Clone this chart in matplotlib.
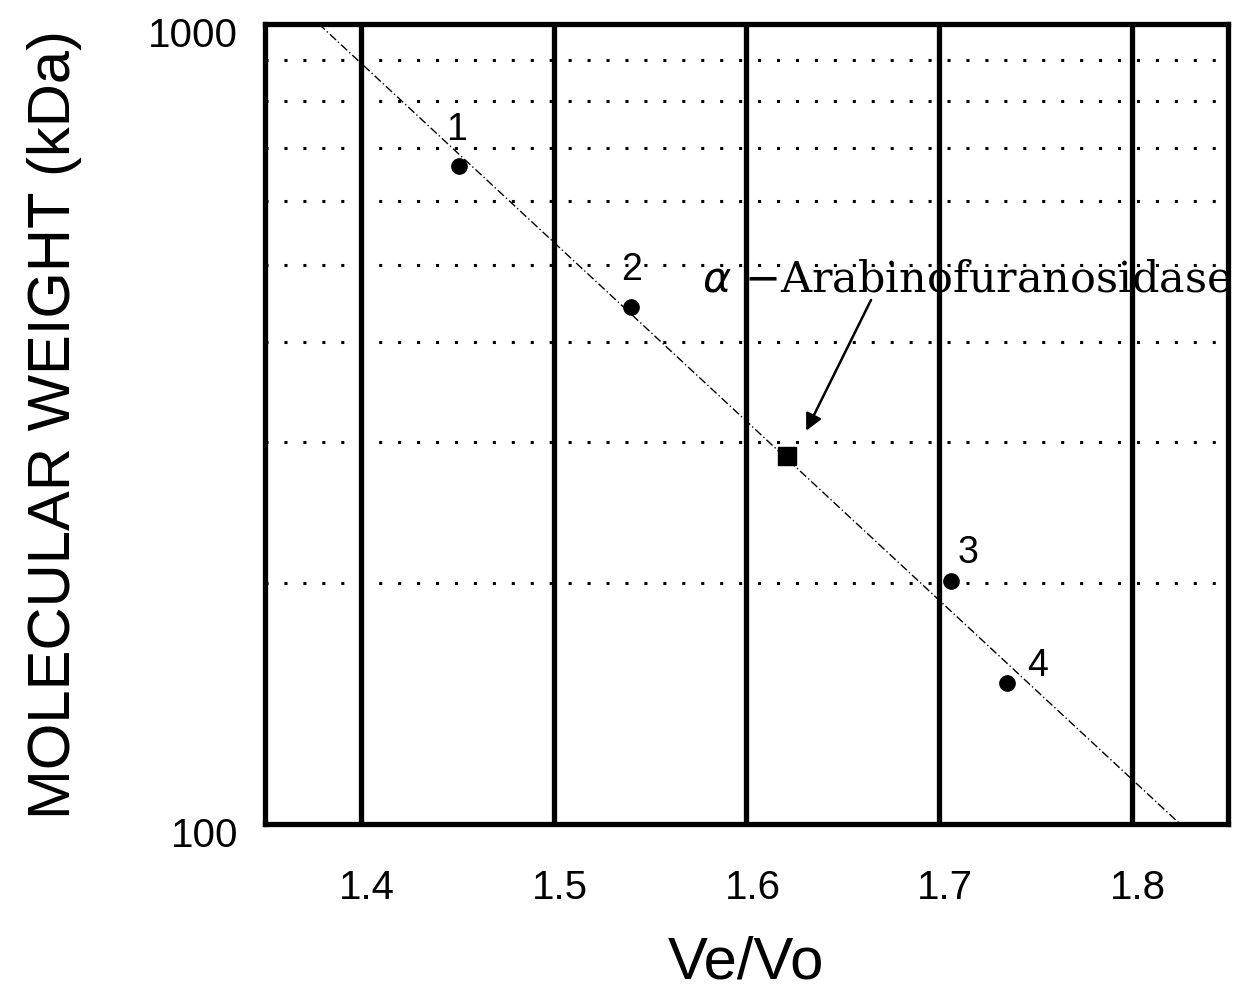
import matplotlib.pyplot as plt
import matplotlib.transforms as mtransforms

plt.close('all')

# standards (points 1-4)
std_labels = ["1", "2", "3", "4"]
std_ve_vo = [1.451, 1.540, 1.706, 1.735]
std_mw = [665, 443, 201, 150]
label_x = [1.4497, 1.5404, 1.715, 1.7513]
label_mw = [739, 494, 219, 158]

# the enzyme
enz_ve_vo = [1.621]
enz_mw = [288]

# calibration line
fit_ve_vo = [1.378, 1.825]
fit_mw = [1000, 100]

xticks = [1.4, 1.5, 1.6, 1.7, 1.8]
xtick_labels = ["1.4", "1.5", "1.6", "1.7", "1.8"]
dotted_mw = [200, 300, 400, 500, 600, 700, 800, 900]

fig = plt.figure(figsize=(12.43, 9.95), dpi=100)
ax = fig.add_axes([0.213, 0.171, 0.775, 0.804])

ax.set_yscale('log')
ax.set_xlim(1.35, 1.85)
ax.set_ylim(100, 1000)

for x in xticks:
    ax.axvline(x, color='black', lw=3.8, zorder=1)
for y in dotted_mw:
    ax.axhline(y, color='black', lw=2.2, linestyle=(0, (1, 5.2)), zorder=1)

ax.plot(fit_ve_vo, fit_mw, color='black', lw=1.0, linestyle=(0, (6, 2, 1, 2)), zorder=2)
ax.plot(std_ve_vo, std_mw, 'o', color='black', markersize=11, zorder=3)
ax.plot(enz_ve_vo, enz_mw, 's', color='black', markersize=13, zorder=3)

for lab, x, y in zip(std_labels, label_x, label_mw):
    ax.text(x, y, lab, fontsize=27, family='Liberation Sans', ha='center', va='center')

ax.annotate(r"$\alpha$ $-$Arabinofuranosidase", xy=(1.631, 310), xytext=(1.5767, 480),
            fontsize=31, family='DejaVu Serif', va='center', ha='left',
            arrowprops=dict(arrowstyle='-|>', color='black', lw=1.8,
                            mutation_scale=25, shrinkA=0, shrinkB=0,
                            patchA=None, relpos=(0.32, 0.0)))

for s in ax.spines.values():
    s.set_linewidth(3.8)

ax.set_xticks(xticks)
ax.set_xticklabels(xtick_labels, fontsize=29, family='Liberation Sans')
ax.set_yticks([100, 1000])
ax.set_yticklabels(["100", "1000"], fontsize=29, family='Liberation Sans')
ax.yaxis.set_minor_locator(plt.NullLocator())
ax.tick_params(axis='both', length=0)
ax.tick_params(axis='x', pad=32)
ax.tick_params(axis='y', pad=19)

# small shifts of the tick labels, as in the original figure
xoff = mtransforms.ScaledTranslation(6 / 100, 0, fig.dpi_scale_trans)
for lab in ax.get_xticklabels():
    lab.set_transform(lab.get_transform() + xoff)
yoff = mtransforms.ScaledTranslation(0, -7 / 100, fig.dpi_scale_trans)
for lab in ax.get_yticklabels():
    lab.set_transform(lab.get_transform() + yoff)

ax.set_xlabel("Ve/Vo", fontsize=43, family='Liberation Sans', labelpad=20)
ax.set_ylabel("MOLECULAR WEIGHT (kDa)", fontsize=43, family='Liberation Sans', labelpad=48)

fig.savefig("out.png", dpi=100)
